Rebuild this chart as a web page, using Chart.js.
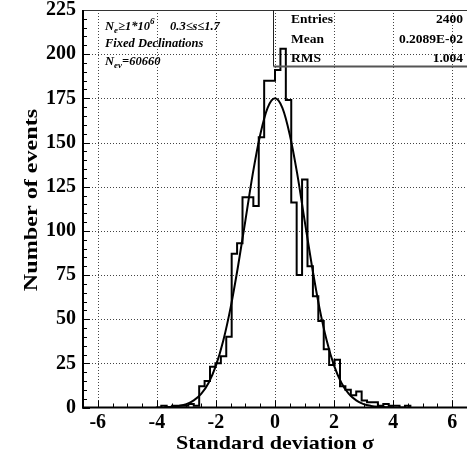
<!DOCTYPE html>
<html>
<head>
<meta charset="utf-8">
<script src="https://cdn.jsdelivr.net/npm/chart.js@4.4.1/dist/chart.umd.min.js"></script>
<style>
  html, body { margin: 0; padding: 0; background: #fff; }
  canvas { display: block; }
</style>
</head>
<body>
<canvas id="c" width="467" height="457"></canvas>
<script>
// Binning of the deviation histogram (bin edges are multiples of BIN_WIDTH)
const BIN_WIDTH = 11 / 60;
const FIRST_BIN = -22;            // index of the first listed bin

// Entries per bin, from the bin starting at FIRST_BIN * BIN_WIDTH upward
const counts = [
  0, 1, 0, 1, 1, 1, 2, 1,
  12, 15, 23, 25, 29, 40, 87, 93, 119, 119, 114, 153, 185, 185,
  191, 203, 174, 116, 75, 129, 80, 63, 49, 33, 24, 27, 12, 10, 7, 9,
  4, 3, 3, 1, 2, 1, 1, 0, 1
];

// Gaussian fit curve, sampled along the sigma axis
const fitX = [-3.75, -3.5, -3.25, -3, -2.75, -2.5, -2.25, -2, -1.75, -1.5, -1.25, -1, -0.75, -0.5, -0.25,
  0, 0.25, 0.5, 0.75, 1, 1.25, 1.5, 1.75, 2, 2.25, 2.5, 2.75, 3, 3.25, 3.5, 3.75, 4];
const fitY = [0.2, 0.4, 0.9, 1.9, 4.0, 7.7, 13.9, 23.7, 37.9, 56.8, 80.1, 106.1, 132.5, 154.4, 169.6,
  175, 169.6, 154.4, 132.5, 106.1, 80.1, 56.8, 37.9, 23.7, 13.9, 7.7, 4.0, 1.9, 0.9, 0.4, 0.2, 0.06];

// Axis ticks
const xTicks = [-6, -4, -2, 0, 2, 4, 6];
const yTicks = [0, 25, 50, 75, 100, 125, 150, 175, 200, 225];

// Statistics box
const statLabels = ['Entries', 'Mean', 'RMS'];
const statValues = ['2400', '0.2089E-02', '1.004'];

const SERIF = '"Liberation Serif", "DejaVu Serif", serif';

// Step outline: each point is a bin's lower edge with that bin's content
const histPoints = counts.map((c, i) => ({ x: (FIRST_BIN + i) * BIN_WIDTH, y: c }));
const lastEdge = (FIRST_BIN + counts.length) * BIN_WIDTH;
histPoints.push({ x: lastEdge, y: counts[counts.length - 1] });
histPoints.push({ x: lastEdge, y: 0 });

const fitPoints = fitX.map((x, i) => ({ x, y: fitY[i] }));

function strokeLine(ctx, x1, y1, x2, y2) {
  ctx.beginPath(); ctx.moveTo(x1, y1); ctx.lineTo(x2, y2); ctx.stroke();
}

// Draw a run of text pieces (with sub/superscripts) starting at x
function drawRich(ctx, parts, x, y) {
  parts.forEach(p => {
    ctx.font = `italic bold ${p.size}px ${SERIF}`;
    ctx.fillText(p.t, x, y + (p.dy || 0));
    x += ctx.measureText(p.t).width;
  });
}

// Axis title drawn with a horizontal stretch along its reading direction
function drawTitle(ctx, text, x, y, angle, stretch) {
  ctx.save();
  ctx.translate(x, y);
  ctx.rotate(angle);
  ctx.scale(stretch, 1);
  ctx.fillText(text, 0, 0);
  ctx.restore();
}

const framePlugin = {
  id: 'frame',
  beforeDatasetsDraw(chart) {
    const { ctx, chartArea: a, scales: { x, y } } = chart;
    ctx.save();
    // dotted grid at the labelled ticks
    ctx.strokeStyle = '#444';
    ctx.lineWidth = 1;
    ctx.setLineDash([1, 2]);
    xTicks.forEach(v => {
      const px = Math.round(x.getPixelForValue(v)) + 0.5;
      strokeLine(ctx, px, a.top, px, a.bottom);
    });
    yTicks.forEach(v => {
      if (v === 0) return;
      const py = Math.round(y.getPixelForValue(v)) + 0.5;
      strokeLine(ctx, a.left, py, a.right, py);
    });
    ctx.setLineDash([]);
    // inward tick marks, major and minor
    ctx.strokeStyle = '#000';
    ctx.lineWidth = 1;
    for (let v = -6.5; v <= 6.5 + 1e-9; v += 0.5) {
      const px = Math.round(x.getPixelForValue(v)) + 0.5;
      const len = (Math.abs(v % 2) < 1e-9) ? 7 : 4;
      strokeLine(ctx, px, a.bottom, px, a.bottom - len);
    }
    for (let v = 0; v <= 225; v += 5) {
      const py = Math.round(y.getPixelForValue(v)) + 0.5;
      const len = (v % 25 === 0) ? 7 : 4;
      strokeLine(ctx, a.left, py, a.left + len, py);
    }
    ctx.restore();
  },
  afterDatasetsDraw(chart) {
    const { ctx, chartArea: a } = chart;
    ctx.save();
    // top edge of the frame
    ctx.strokeStyle = '#333';
    ctx.lineWidth = 1;
    strokeLine(ctx, a.left, a.top + 0.5, a.right, a.top + 0.5);
    // axis lines
    ctx.strokeStyle = '#000';
    ctx.lineWidth = 2;
    strokeLine(ctx, a.left, a.top, a.left, a.bottom + 1);
    strokeLine(ctx, a.left - 1, a.bottom, a.right, a.bottom);

    // statistics box
    const bx = 273.5, by = a.top, bb = 66.5;
    ctx.strokeStyle = '#222';
    ctx.lineWidth = 1;
    strokeLine(ctx, bx, by, bx, bb);
    ctx.strokeStyle = '#555';
    ctx.lineWidth = 2;
    strokeLine(ctx, bx, bb, a.right, bb);
    ctx.fillStyle = '#000';
    ctx.font = `bold 13.5px ${SERIF}`;
    ctx.textBaseline = 'alphabetic';
    const rowY = [23, 43, 62];
    statLabels.forEach((t, i) => {
      ctx.textAlign = 'left';
      ctx.fillText(t, 291, rowY[i]);
      ctx.textAlign = 'right';
      ctx.fillText(statValues[i], 463, rowY[i]);
    });

    // selection notes, top left
    ctx.textAlign = 'left';
    drawRich(ctx, [
      { t: 'N', size: 12.5 }, { t: 'e', size: 9, dy: 3 }, { t: '≥1*10', size: 12.5 },
      { t: '6', size: 9, dy: -6 }
    ], 105, 30);
    drawRich(ctx, [{ t: '0.3≤s≤1.7', size: 12.5 }], 170, 30);
    drawRich(ctx, [{ t: 'Fixed Declinations', size: 12.5 }], 105, 47);
    drawRich(ctx, [
      { t: 'N', size: 12.5 }, { t: 'ev', size: 9, dy: 3 }, { t: '=60660', size: 12.5 }
    ], 105, 65);

    // axis titles
    ctx.font = `bold 19px ${SERIF}`;
    ctx.textAlign = 'center';
    ctx.textBaseline = 'alphabetic';
    drawTitle(ctx, 'Standard deviation σ', 275, 449, 0, 1.16);
    drawTitle(ctx, 'Number of events', 37, 200, -Math.PI / 2, 1.27);
    ctx.restore();
  }
};

new Chart(document.getElementById('c'), {
  type: 'scatter',
  data: {
    datasets: [
      {
        label: 'histogram',
        data: histPoints,
        showLine: true,
        stepped: 'before',
        borderColor: '#000',
        borderWidth: 2,
        pointRadius: 0,
        fill: false
      },
      {
        label: 'fit',
        data: fitPoints,
        showLine: true,
        cubicInterpolationMode: 'monotone',
        borderColor: '#000',
        borderWidth: 2,
        pointRadius: 0,
        fill: false
      }
    ]
  },
  options: {
    responsive: false,
    animation: false,
    devicePixelRatio: 1,
    layout: { padding: { top: 10, right: 0, left: 0, bottom: 0 } },
    plugins: { legend: { display: false }, tooltip: { enabled: false } },
    events: [],
    scales: {
      x: {
        type: 'linear',
        min: -6.5,
        max: 6.5,
        afterBuildTicks: s => { s.ticks = xTicks.map(v => ({ value: v })); },
        afterFit: s => { s.height = 49.5; s.paddingLeft = 0; s.paddingRight = 0; },
        grid: { display: false, drawTicks: false },
        border: { display: false },
        ticks: {
          padding: 3,
          color: '#000',
          font: { family: SERIF, size: 20, weight: 'bold' },
          callback: v => String(v),
          maxRotation: 0
        }
      },
      y: {
        type: 'linear',
        min: 0,
        max: 225,
        afterBuildTicks: s => { s.ticks = yTicks.map(v => ({ value: v })); },
        afterFit: s => { s.width = 83; s.paddingTop = 0; s.paddingBottom = 0; },
        grid: { display: false, drawTicks: false },
        border: { display: false },
        ticks: {
          padding: 7,
          color: '#000',
          font: { family: SERIF, size: 20, weight: 'bold' }
        }
      }
    }
  },
  plugins: [framePlugin]
});
</script>
</body>
</html>
